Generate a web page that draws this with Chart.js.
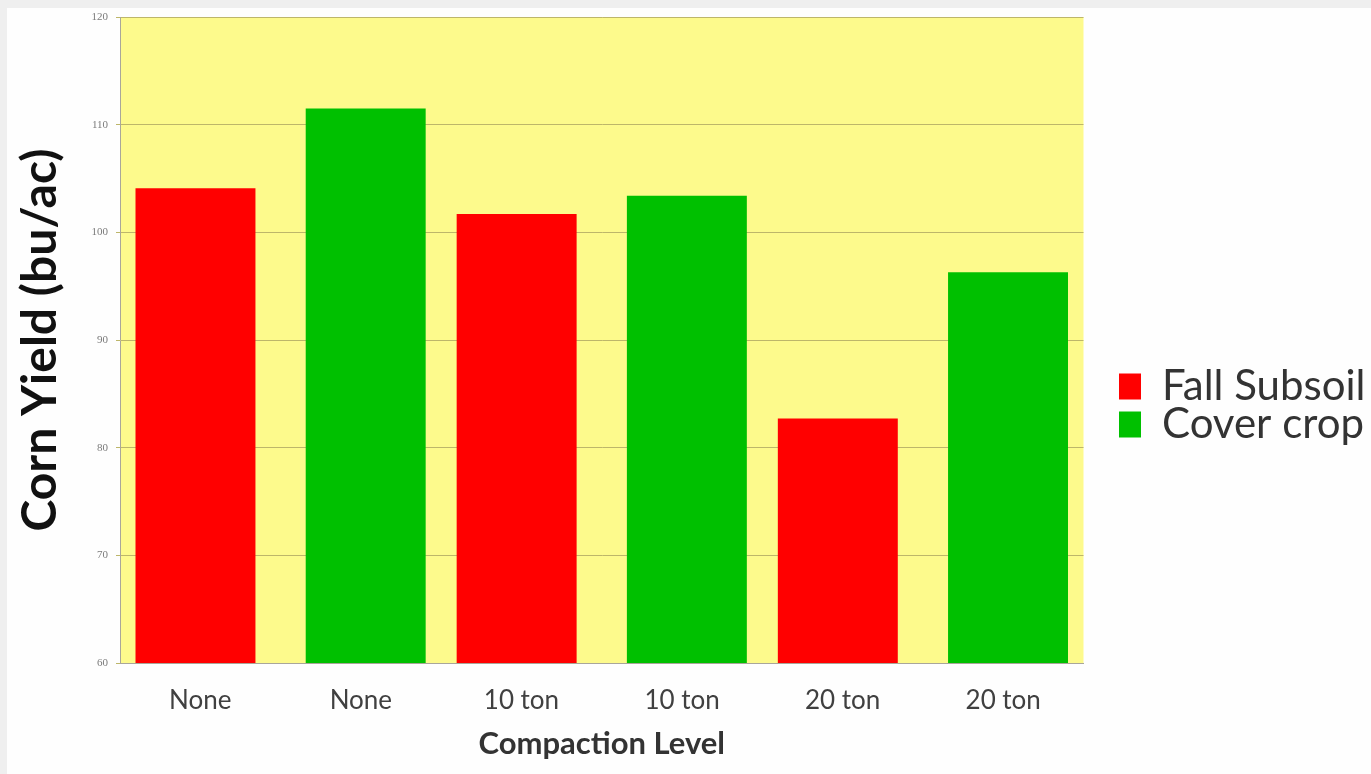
<!DOCTYPE html>
<html>
<head>
<meta charset="utf-8">
<title>Corn Yield by Compaction Level</title>
<script src="https://cdn.jsdelivr.net/npm/chart.js@4.4.1/dist/chart.umd.min.js"></script>
<style>
  html, body { margin: 0; padding: 0; width: 1371px; height: 774px; overflow: hidden; background: #efefef; }
  #slide { position: absolute; left: 7px; top: 8px; width: 1364px; height: 766px; background: #fefefe; }
  #chart { display: block; }
</style>
</head>
<body>
<div id="slide"><canvas id="chart" width="1364" height="766"></canvas></div>
<script>
// Compaction treatments along the x axis
const categories = ['None', 'None', '10 ton', '10 ton', '20 ton', '20 ton'];

// Corn yield (bu/ac) per treatment
const fallSubsoil = [104.1, null, 101.7, null, 82.7, null];
const coverCrop   = [null, 111.5, null, 103.4, null, 96.3];

// Value axis ticks
const yTicks = [60, 70, 80, 90, 100, 110, 120];

// Yellow plot background behind the bars
const plotBackground = {
  id: 'plotBackground',
  beforeDraw(chart, args, opts) {
    const { ctx, chartArea: a } = chart;
    ctx.save();
    ctx.fillStyle = opts.color;
    ctx.fillRect(a.left, a.top, a.right - a.left, a.bottom - a.top);
    ctx.restore();
  }
};

// Puts the legend to the right of the plot, centred on a given height
const legendPlacement = {
  id: 'legendPlacement',
  afterLayout(chart, args, opts) {
    const lg = chart.legend;
    if (!lg) return;
    const pad = lg.options.labels.padding;
    lg.left = chart.chartArea.right + opts.gap - pad;
    lg.right = lg.left + lg.width;
    lg.top = opts.middle - 200;
    lg.bottom = opts.middle + 200;
    lg.height = 400;
  }
};

// Axis boxes of fixed size, without extra room for the end labels
function fixWidth(w) {
  return scale => { scale.width = w; scale.paddingTop = 0; scale.paddingBottom = 0; };
}
function fixHeight(h) {
  return scale => { scale.height = h; scale.paddingLeft = 0; scale.paddingRight = 0; };
}

function drawChart() {
  Chart.defaults.font.family = 'Lato';

  new Chart(document.getElementById('chart'), {
    type: 'bar',
    data: {
      labels: categories,
      datasets: [
        { label: 'Fall Subsoil', data: fallSubsoil, backgroundColor: '#ff0000', borderWidth: 0 },
        { label: 'Cover crop',   data: coverCrop,   backgroundColor: '#00c000', borderWidth: 0 }
      ]
    },
    options: {
      responsive: false,
      devicePixelRatio: 1,
      animation: false,
      events: [],
      // overlapping clustered columns, slightly offset per series
      categoryPercentage: 0.12,
      barPercentage: 12.45,
      layout: { padding: { top: 9, left: 0, bottom: 0, right: 287.5 } },
      scales: {
        x: {
          afterFit: fixHeight(111),
          grid: { display: false, drawTicks: false },
          border: { display: true, color: '#a9a69a', width: 1 },
          ticks: { padding: 22, color: '#404040', font: { size: 26 } },
          title: {
            display: true,
            text: 'Compaction Level',
            color: '#333333',
            font: { size: 31, weight: 'bold' },
            padding: { top: 0, bottom: 11 }
          }
        },
        y: {
          min: yTicks[0],
          max: yTicks[yTicks.length - 1],
          afterBuildTicks(scale) { scale.ticks = yTicks.map(v => ({ value: v })); },
          afterFit: fixWidth(113),
          grid: { color: '#bdb66a', lineWidth: 1, drawTicks: true, tickLength: 4 },
          border: { display: true, color: '#a9a69a', width: 1 },
          ticks: { padding: 8, color: '#7b7b7b', font: { family: 'Liberation Serif', size: 11 } },
          title: {
            display: true,
            text: 'Corn Yield (bu/ac)',
            color: '#111111',
            font: { size: 48, weight: 'bold' },
            padding: { top: 5, bottom: 0 }
          }
        }
      },
      plugins: {
        plotBackground: { color: '#fdfa8c' },
        legendPlacement: { gap: 31.5, middle: 397.5 },
        tooltip: { enabled: false },
        legend: {
          position: 'chartArea',
          align: 'center',
          labels: {
            boxWidth: 26,
            boxHeight: 26,
            padding: -4,
            color: '#333333',
            font: { size: 42 }
          }
        }
      }
    },
    plugins: [plotBackground, legendPlacement]
  });
}

Promise.all([
  document.fonts.load('42px Lato'),
  document.fonts.load('bold 48px Lato'),
  document.fonts.load('11px "Liberation Serif"')
]).then(drawChart, drawChart);
</script>
</body>
</html>
